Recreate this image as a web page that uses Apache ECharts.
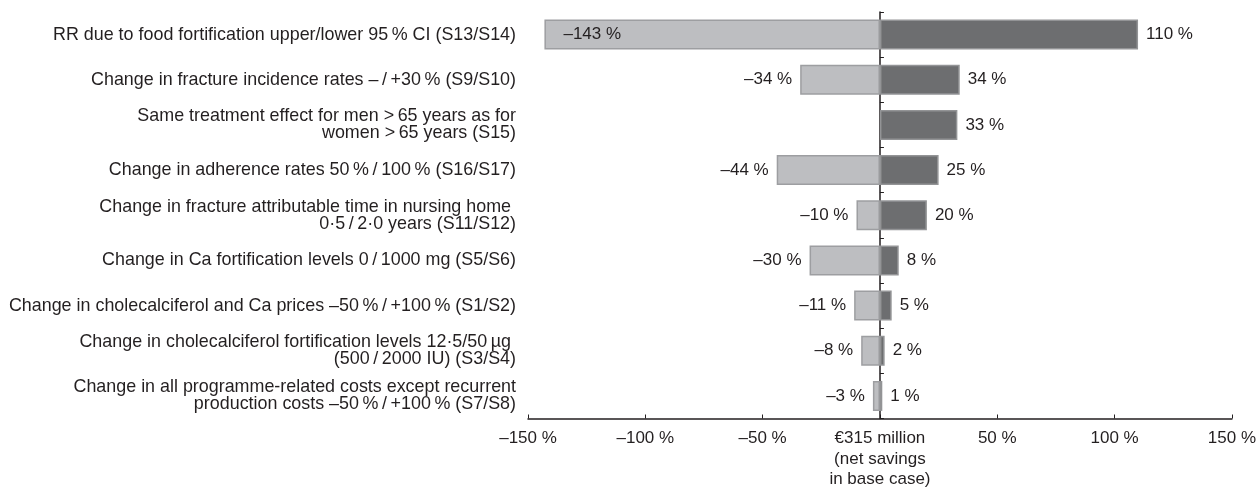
<!DOCTYPE html>
<html>
<head>
<meta charset="utf-8">
<script src="https://cdn.jsdelivr.net/npm/echarts@6/dist/echarts.min.js"></script>
<style>
  html, body { margin: 0; padding: 0; background: #fff; }
  #main { width: 1259px; height: 490px; }
</style>
</head>
<body>
<div id="main"></div>
<script>
var T = '\u2009'; // thin space

// scenarios, top to bottom
var scenarios = [
    'RR due to food fortification upper/lower 95' + T + '% CI (S13/S14)',
    'Change in fracture incidence rates –' + T + '/' + T + '+30' + T + '% (S9/S10)',
    'Same treatment effect for men >' + T + '65 years as for\nwomen >' + T + '65 years (S15)',
    'Change in adherence rates 50' + T + '%' + T + '/' + T + '100' + T + '% (S16/S17)',
    'Change in fracture attributable time in nursing home \n0·5' + T + '/' + T + '2·0 years (S11/S12)',
    'Change in Ca fortification levels 0' + T + '/' + T + '1000 mg (S5/S6)',
    'Change in cholecalciferol and Ca prices –50' + T + '%' + T + '/' + T + '+100' + T + '% (S1/S2)',
    'Change in cholecalciferol fortification levels 12·5/50' + T + 'µg \n(500' + T + '/' + T + '2000 IU) (S3/S4)',
    'Change in all programme-related costs except recurrent\nproduction costs –50' + T + '%' + T + '/' + T + '+100' + T + '% (S7/S8)'
];
// % change of net savings
var lowValues  = [-143, -34, null, -44, -10, -30, -11, -8, -3];
var highValues = [110, 34, 33, 25, 20, 8, 5, 2, 1];

var axisMin = -150, axisMax = 150, axisStep = 50;
var baseLabel = '€315 million\n(net savings\nin base case)';

var ink = '#231f20';
var font = 'Liberation Sans';

function pct(v) {
    return (v < 0 ? '–' + Math.abs(v) : v) + ' %';
}

// the big bar keeps its label inside
var lowData = lowValues.map(function (v, i) {
    if (i == 0) {
        return { value: v, label: { position: 'insideLeft', distance: 19 } };
    }
    return v;
});

var myChart = echarts.init(document.getElementById('main'));
var option = {
    backgroundColor: '#fff',
    animation: false,
    grid: {
        left: 528,
        right: 22,
        top: 12,
        bottom: 69
    },
    xAxis: {
        type: 'value',
        min: axisMin,
        max: axisMax,
        interval: axisStep,
        axisLine: { show: true, onZero: false, lineStyle: { color: ink, width: 1.5 } },
        axisTick: { show: true, inside: true, length: 4, lineStyle: { color: ink, width: 1 } },
        splitLine: { show: false },
        axisLabel: {
            color: ink,
            fontFamily: font,
            fontSize: 17,
            lineHeight: 20.5,
            margin: 10,
            verticalAlign: 'top',
            formatter: function (v) {
                return v == 0 ? baseLabel : pct(v);
            }
        }
    },
    yAxis: [
        {
            type: 'category',
            inverse: true,
            data: scenarios,
            axisLine: { show: false, onZero: false },
            axisTick: { show: false },
            axisLabel: {
                color: ink,
                fontFamily: font,
                fontSize: 17.9,
                lineHeight: 17,
                margin: 12
            }
        },
        {
            type: 'category',
            inverse: true,
            position: 'left',
            data: scenarios,
            axisLine: { show: true, onZero: true, lineStyle: { color: ink, width: 1.5 } },
            axisTick: { show: true, inside: true, length: 4, lineStyle: { color: ink, width: 1 } },
            axisLabel: { show: false }
        }
    ],
    series: [
        {
            name: 'low',
            type: 'bar',
            yAxisIndex: 0,
            barWidth: 30,
            barGap: '-100%',
            data: lowData,
            itemStyle: { color: '#bdbec1', borderColor: '#9d9ea1', borderWidth: 1.5 },
            label: {
                show: true,
                position: 'left',
                distance: 8,
                color: ink,
                fontFamily: font,
                fontSize: 17,
                formatter: function (p) { return pct(p.value); }
            }
        },
        {
            name: 'high',
            type: 'bar',
            yAxisIndex: 0,
            barWidth: 30,
            data: highValues,
            itemStyle: { color: '#6d6e70', borderColor: '#939496', borderWidth: 1.5 },
            label: {
                show: true,
                position: 'right',
                distance: 8,
                color: ink,
                fontFamily: font,
                fontSize: 17,
                formatter: function (p) { return pct(p.value); }
            }
        }
    ]
};
myChart.setOption(option);
</script>
</body>
</html>
